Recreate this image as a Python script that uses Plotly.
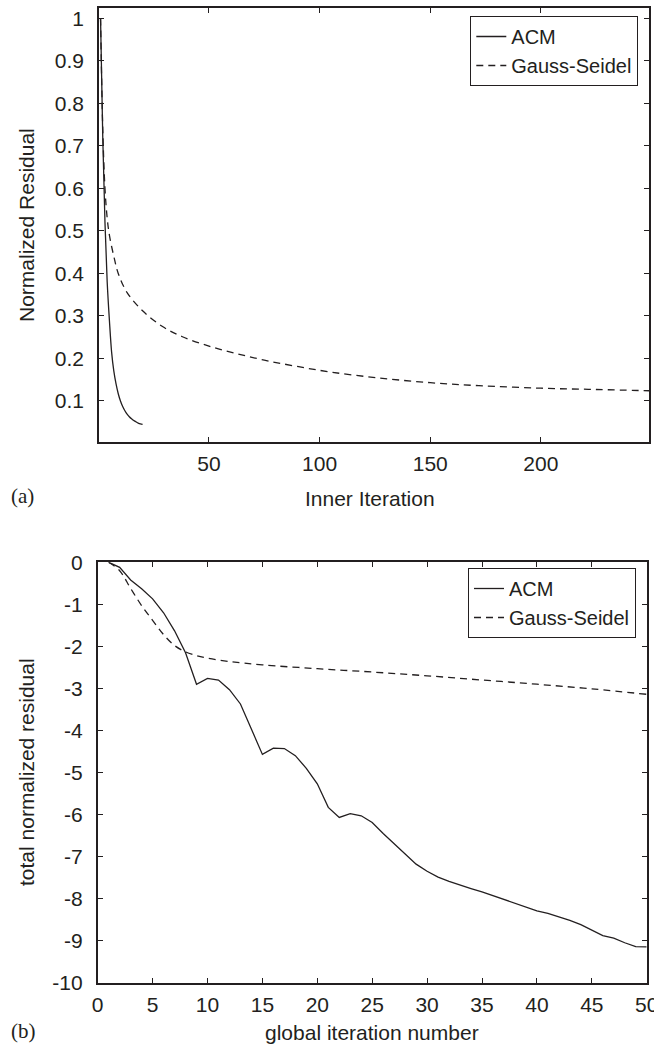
import plotly.graph_objects as go

W, H = 654, 1058

# ---------- panel (a) data ----------
a_acm_x = list(range(1, 21))
a_acm_y = [1.0, 0.72, 0.52, 0.38, 0.29, 0.215, 0.17, 0.14, 0.117, 0.1,
           0.087, 0.077, 0.069, 0.063, 0.058, 0.054, 0.051, 0.048, 0.046, 0.045]
a_gs_x = [1, 2, 3, 4, 5, 7, 9, 13, 20, 29, 38, 50, 62, 75, 89, 105, 127, 150, 172, 200, 225, 249]
a_gs_y = [1.0, 0.74, 0.6, 0.53, 0.49, 0.44, 0.40, 0.355, 0.312, 0.275, 0.251, 0.229, 0.212,
          0.196, 0.182, 0.168, 0.154, 0.143, 0.136, 0.13, 0.127, 0.124]
a_xticks = [50, 100, 150, 200]
a_yticks = [0.1, 0.2, 0.3, 0.4, 0.5, 0.6, 0.7, 0.8, 0.9, 1.0]
a_yticktext = ["0.1", "0.2", "0.3", "0.4", "0.5", "0.6", "0.7", "0.8", "0.9", "1"]

# ---------- panel (b) data ----------
b_acm_x = list(range(1, 51))
b_acm_y = [0, -0.12, -0.42, -0.63, -0.87, -1.2, -1.63, -2.15, -2.9, -2.76,
           -2.8, -3.03, -3.37, -3.97, -4.57, -4.42, -4.43, -4.6, -4.9, -5.27,
           -5.83, -6.07, -5.98, -6.03, -6.19, -6.45, -6.7, -6.95, -7.18, -7.35,
           -7.49, -7.59, -7.68, -7.76, -7.84, -7.93, -8.03, -8.12, -8.2, -8.29,
           -8.35, -8.43, -8.52, -8.62, -8.75, -8.88, -8.94, -9.05, -9.14, -9.15]
b_gs_x = [1, 2, 3, 4, 5, 6, 7, 8, 9, 10, 12, 15, 20, 25, 30, 35, 40, 45, 50]
b_gs_y = [0, -0.2, -0.62, -1.03, -1.38, -1.72, -1.98, -2.13, -2.22, -2.28,
          -2.36, -2.44, -2.53, -2.61, -2.70, -2.8, -2.9, -3.01, -3.14]
b_xticks = [0, 5, 10, 15, 20, 25, 30, 35, 40, 45, 50]
b_xticktext = ["0", "5", "10", "15", "20", "25", "30", "35", "40", "45", "50"]
b_yticks = [0, -1, -2, -3, -4, -5, -6, -7, -8, -9, -10]
b_yticktext = ["0", "-1", "-2", "-3", "-4", "-5", "-6", "-7", "-8", "-9", "-10"]

INK = "#231f20"
FONT = "Liberation Sans, Arial, sans-serif"
FS = 21
DASH = "7px,5px"
LW = 1.3

fig = go.Figure()
fig.add_trace(go.Scatter(x=a_acm_x, y=a_acm_y, mode="lines", name="ACM",
                         line=dict(color=INK, width=LW, shape="spline"),
                         xaxis="x", yaxis="y", legend="legend"))
fig.add_trace(go.Scatter(x=a_gs_x, y=a_gs_y, mode="lines", name="Gauss-Seidel",
                         line=dict(color=INK, width=LW, dash=DASH, shape="spline"),
                         xaxis="x", yaxis="y", legend="legend"))
fig.add_trace(go.Scatter(x=b_acm_x, y=b_acm_y, mode="lines", name="ACM",
                         line=dict(color=INK, width=LW),
                         xaxis="x2", yaxis="y2", legend="legend2"))
fig.add_trace(go.Scatter(x=b_gs_x, y=b_gs_y, mode="lines", name="Gauss-Seidel",
                         line=dict(color=INK, width=LW, dash=DASH, shape="spline"),
                         xaxis="x2", yaxis="y2", legend="legend2"))


def px_x(p):
    return p / W


def px_y(p):
    return 1 - p / H


axis_common = dict(showline=True, linecolor=INK, linewidth=1.7, mirror="ticks",
                   ticks="inside", ticklen=5, tickwidth=1, tickcolor=INK,
                   showgrid=False, zeroline=False, automargin=False,
                   ticklabeloverflow="allow",
                   tickfont=dict(family=FONT, size=FS, color=INK))

legend_common = dict(xanchor="right", yanchor="top", bgcolor="white", bordercolor=INK,
                     borderwidth=1, itemwidth=30, tracegroupgap=0,
                     font=dict(family=FONT, size=FS - 1, color=INK))

fig.update_layout(
    width=W, height=H,
    margin=dict(l=0, r=0, t=0, b=0),
    paper_bgcolor="white", plot_bgcolor="white",
    xaxis=dict(domain=[px_x(99), px_x(649.3)], range=[0.3, 249], anchor="y",
               tickvals=a_xticks, ticklabelstandoff=2, **axis_common),
    yaxis=dict(domain=[px_y(441.7), px_y(8.3)], range=[0.0042, 1.0235], anchor="x",
               tickvals=a_yticks, ticktext=a_yticktext, ticklabelstandoff=9, **axis_common),
    xaxis2=dict(domain=[px_x(97.7), px_x(646.7)], range=[0, 50], anchor="y2",
                tickvals=b_xticks, ticktext=b_xticktext, ticklabelstandoff=2, **axis_common),
    yaxis2=dict(domain=[px_y(982.7), px_y(562.3)], range=[-10, 0], anchor="x2",
                tickvals=b_yticks, ticktext=b_yticktext, ticklabelstandoff=9, **axis_common),
    legend=dict(x=px_x(638.3), y=px_y(16), **legend_common),
    legend2=dict(x=px_x(636), y=px_y(568), **legend_common),
    showlegend=True,
)

ann = []
title_font = dict(family=FONT, size=FS, color=INK)
ann.append(dict(text="Inner Iteration", x=px_x(370), y=px_y(498), xref="paper", yref="paper",
                xanchor="center", yanchor="middle", showarrow=False, font=title_font))
ann.append(dict(text="global iteration number", x=px_x(372), y=px_y(1032), xref="paper", yref="paper",
                xanchor="center", yanchor="middle", showarrow=False, font=title_font))
ann.append(dict(text="Normalized Residual", x=px_x(26), y=px_y(225), xref="paper", yref="paper",
                xanchor="center", yanchor="middle", showarrow=False, textangle=-90, font=title_font))
ann.append(dict(text="total normalized residual", x=px_x(26), y=px_y(772), xref="paper", yref="paper",
                xanchor="center", yanchor="middle", showarrow=False, textangle=-90, font=title_font))
label_font = dict(family="Liberation Serif, Times New Roman, serif", size=FS, color=INK)
ann.append(dict(text="(a)", x=px_x(9), y=px_y(496), xref="paper", yref="paper",
                xanchor="left", yanchor="middle", showarrow=False, font=label_font))
ann.append(dict(text="(b)", x=px_x(9), y=px_y(1031), xref="paper", yref="paper",
                xanchor="left", yanchor="middle", showarrow=False, font=label_font))
fig.update_layout(annotations=ann)

fig.write_html("out.html", config={"displayModeBar": False},
               post_script="document.body.style.margin='0';document.body.style.overflow='hidden';")
